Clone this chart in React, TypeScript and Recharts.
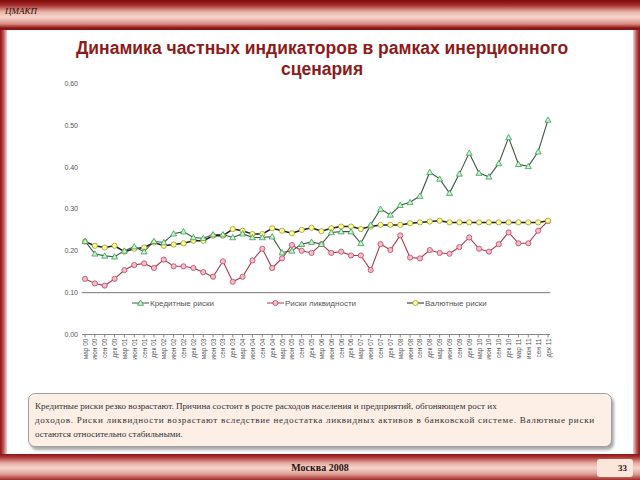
import React from "react";
import {
  LineChart,
  Line,
  XAxis,
  YAxis,
  ReferenceLine,
  Legend,
} from "recharts";

const periods = [
  "мар 00", "июн 00", "сен 00", "дек 00",
  "мар 01", "июн 01", "сен 01", "дек 01",
  "мар 02", "июн 02", "сен 02", "дек 02",
  "мар 03", "июн 03", "сен 03", "дек 03",
  "мар 04", "июн 04", "сен 04", "дек 04",
  "мар 05", "июн 05", "сен 05", "дек 05",
  "мар 06", "июн 06", "сен 06", "дек 06",
  "мар 07", "июн 07", "сен 07", "дек 07",
  "мар 08", "июн 08", "сен 08", "дек 08",
  "мар 09", "июн 09", "сен 09", "дек 09",
  "мар 10", "июн 10", "сен 10", "дек 10",
  "мар 11", "июн 11", "сен 11", "дек 11",
];

const creditRisk = [
  0.223, 0.193, 0.188, 0.186, 0.2, 0.21, 0.198, 0.223,
  0.22, 0.241, 0.246, 0.232, 0.23, 0.239, 0.239, 0.232,
  0.241, 0.232, 0.232, 0.234, 0.196, 0.2, 0.216, 0.221,
  0.216, 0.244, 0.246, 0.246, 0.218, 0.262, 0.3, 0.286,
  0.309, 0.316, 0.331, 0.388, 0.372, 0.338, 0.384, 0.434,
  0.386, 0.377, 0.409, 0.471, 0.407, 0.402, 0.437, 0.513,
];

const liquidityRisk = [
  0.133, 0.122, 0.117, 0.133, 0.154, 0.166, 0.17, 0.159,
  0.179, 0.163, 0.163, 0.159, 0.149, 0.138, 0.175, 0.126,
  0.138, 0.177, 0.205, 0.159, 0.182, 0.214, 0.2, 0.195,
  0.216, 0.195, 0.198, 0.189, 0.189, 0.154, 0.216, 0.202,
  0.237, 0.184, 0.182, 0.202, 0.195, 0.193, 0.209, 0.232,
  0.205, 0.198, 0.216, 0.244, 0.218, 0.218, 0.248, 0.271,
];

const currencyRisk = [
  0.222, 0.212, 0.208, 0.212, 0.198, 0.205, 0.208, 0.22,
  0.212, 0.215, 0.218, 0.224, 0.224, 0.236, 0.236, 0.252,
  0.248, 0.24, 0.24, 0.254, 0.248, 0.242, 0.25, 0.255,
  0.247, 0.254, 0.258, 0.258, 0.252, 0.258, 0.262, 0.262,
  0.262, 0.266, 0.268, 0.27, 0.272, 0.268, 0.268, 0.268,
  0.268, 0.268, 0.268, 0.268, 0.268, 0.268, 0.268, 0.272,
];

const yTicks = [0, 0.1, 0.2, 0.3, 0.4, 0.5, 0.6];

const chartData = periods.map((p, i) => ({
  period: p,
  credit: creditRisk[i],
  liquidity: liquidityRisk[i],
  currency: currencyRisk[i],
}));

const SERIES = {
  credit: { name: "Кредитные риски", line: "#3c5a40", fill: "#ccf2cc", stroke: "#3a9a5a" },
  liquidity: { name: "Риски ликвидности", line: "#a83848", fill: "#f3bccb", stroke: "#b84a62" },
  currency: { name: "Валютные риски", line: "#1e1e1e", fill: "#ffff99", stroke: "#9a9a30" },
};

const XTick = (props: any) => {
  const { x, y, payload } = props;
  return (
    <text
      x={x}
      y={y}
      transform={`rotate(-90 ${x} ${y})`}
      textAnchor="end"
      dominantBaseline="central"
      fontSize={6.5}
      fill="#555"
    >
      {payload.value}
    </text>
  );
};

const TriangleDot = (props: any) => {
  const { cx, cy, index } = props;
  if (cx == null || cy == null) return null;
  return (
    <path
      key={`t-${index}`}
      d={`M${cx},${cy - 3} L${cx + 3},${cy + 2.3} L${cx - 3},${cy + 2.3} Z`}
      fill={SERIES.credit.fill}
      stroke={SERIES.credit.stroke}
      strokeWidth={0.8}
    />
  );
};

const LegendMarker = ({ kind }: { kind: "credit" | "liquidity" | "currency" }) => {
  const s = SERIES[kind];
  return (
    <svg width={17} height={10} style={{ verticalAlign: "middle" }}>
      <line x1={0} y1={5} x2={17} y2={5} stroke={s.line} strokeWidth={1} />
      {kind === "credit" ? (
        <path d="M8.5,2 L11.5,7.3 L5.5,7.3 Z" fill={s.fill} stroke={s.stroke} strokeWidth={0.8} />
      ) : (
        <circle cx={8.5} cy={5} r={2.6} fill={s.fill} stroke={s.stroke} strokeWidth={0.8} />
      )}
    </svg>
  );
};

const ChartLegend = () => {
  const items: { kind: "credit" | "liquidity" | "currency"; left: number }[] = [
    { kind: "credit", left: 24 },
    { kind: "liquidity", left: 159 },
    { kind: "currency", left: 299 },
  ];
  return (
    <div style={{ position: "relative", width: 402, height: 12, background: "#fff" }}>
      {items.map((it) => (
        <div
          key={it.kind}
          style={{
            position: "absolute",
            left: it.left,
            top: 0,
            height: 12,
            display: "flex",
            alignItems: "center",
            fontSize: 8,
            color: "#555",
            whiteSpace: "nowrap",
          }}
        >
          <LegendMarker kind={it.kind} />
          <span style={{ marginLeft: 1 }}>{SERIES[it.kind].name}</span>
        </div>
      ))}
    </div>
  );
};

export default function App() {
  return (
    <div
      style={{
        position: "absolute",
        left: 0,
        top: 0,
        width: 640,
        height: 480,
        background: "#fff",
        overflow: "hidden",
        fontFamily: "'Liberation Sans', Arial, sans-serif",
      }}
    >
      {/* header band */}
      <div
        style={{
          position: "absolute",
          left: 0,
          top: 0,
          width: 640,
          height: 30,
          background:
            "linear-gradient(to bottom, #7e0a0a 0px, #a52a2a 5px, #e8b4a8 12px, #f6d6cc 17px, #d88a80 24px, #8c1414 28px, #8c1414 30px)",
        }}
      />
      <div
        style={{
          position: "absolute",
          left: 5,
          top: 6,
          fontFamily: "'Liberation Serif', serif",
          fontStyle: "italic",
          fontSize: 9,
          color: "#2a0a0a",
        }}
      >
        ЦМАКП
      </div>
      {/* side frame */}
      <div
        style={{
          position: "absolute",
          left: 0,
          top: 30,
          width: 7,
          height: 425,
          background: "linear-gradient(to right, #8c1414 0px, #b44a4a 3px, #f3d2cc 7px)",
        }}
      />
      <div
        style={{
          position: "absolute",
          right: 0,
          top: 30,
          width: 7,
          height: 425,
          background: "linear-gradient(to left, #8c1414 0px, #b44a4a 3px, #f3d2cc 7px)",
        }}
      />
      {/* footer band */}
      <div
        style={{
          position: "absolute",
          left: 0,
          top: 454,
          width: 640,
          height: 26,
          background:
            "linear-gradient(to bottom, #8c1414 0px, #a83232 3px, #e6aaa0 9px, #f6d6cc 14px, #e0a094 20px, #a02a2a 26px)",
        }}
      />
      <div
        style={{
          position: "absolute",
          left: 0,
          top: 462,
          width: 640,
          textAlign: "center",
          fontFamily: "'Liberation Serif', serif",
          fontSize: 10,
          fontWeight: "bold",
          color: "#2a1010",
        }}
      >
        Москва 2008
      </div>
      <div
        style={{
          position: "absolute",
          left: 597,
          top: 459,
          width: 36,
          height: 18,
          background: "#fbe6dc",
          borderRadius: 3,
          fontFamily: "'Liberation Serif', serif",
          fontSize: 9,
          fontWeight: "bold",
          color: "#2a1010",
          textAlign: "right",
          lineHeight: "18px",
          boxSizing: "border-box",
          paddingRight: 6,
        }}
      >
        33
      </div>

      {/* title */}
      <div
        style={{
          position: "absolute",
          left: 0,
          top: 38,
          width: 644,
          textAlign: "center",
          fontSize: 17.5,
          fontWeight: "bold",
          lineHeight: "21px",
          color: "#8e1a1a",
        }}
      >
        Динамика частных индикаторов в рамках инерционного
        <br />
        сценария
      </div>

      {/* chart */}
      <div style={{ position: "absolute", left: 30, top: 75 }}>
        <LineChart
          width={540}
          height={310}
          data={chartData}
          margin={{ top: 8.5, right: 20, left: 0, bottom: 8 }}
        >
          <XAxis
            dataKey="period"
            interval={0}
            tick={<XTick />}
            tickSize={3}
            tickMargin={1}
            stroke="#888"
            height={30.5}
            padding={{ left: 3, right: 2 }}
          />
          <YAxis
            domain={[0, 0.6]}
            ticks={yTicks}
            tickFormatter={(v: number) => v.toFixed(2)}
            axisLine={false}
            tickLine={false}
            tickSize={0}
            tickMargin={4}
            width={52}
            fontSize={7}
            tick={{ fill: "#555" }}
          />
          <YAxis
            yAxisId="frame"
            orientation="right"
            domain={[0, 0.6]}
            tick={false}
            tickLine={false}
            width={0}
            stroke="#999"
          />
          <ReferenceLine y={0.1} stroke="#555" strokeWidth={0.8} />
          <Legend
            content={<ChartLegend />}
            wrapperStyle={{ position: "absolute", left: 78, top: 222, width: 402, height: 12 }}
          />
          <Line
            dataKey="liquidity"
            name={SERIES.liquidity.name}
            stroke={SERIES.liquidity.line}
            strokeWidth={1.1}
            dot={{ r: 2.6, fill: SERIES.liquidity.fill, stroke: SERIES.liquidity.stroke, strokeWidth: 0.8 }}
            isAnimationActive={false}
          />
          <Line
            dataKey="currency"
            name={SERIES.currency.name}
            stroke={SERIES.currency.line}
            strokeWidth={1.5}
            dot={{ r: 2.6, fill: SERIES.currency.fill, stroke: SERIES.currency.stroke, strokeWidth: 0.8 }}
            isAnimationActive={false}
          />
          <Line
            dataKey="credit"
            name={SERIES.credit.name}
            stroke={SERIES.credit.line}
            strokeWidth={1.1}
            dot={<TriangleDot />}
            isAnimationActive={false}
          />
        </LineChart>
      </div>

      {/* commentary box */}
      <div
        style={{
          position: "absolute",
          left: 28,
          top: 393,
          width: 584,
          height: 54,
          boxSizing: "border-box",
          background: "#fdeee6",
          border: "1px solid #a0a0a0",
          borderRadius: 7,
          boxShadow: "2px 3px 3px rgba(0,0,0,0.35)",
          padding: "5px 6px",
          fontFamily: "'Liberation Serif', serif",
          fontSize: 9.1,
          lineHeight: "14px",
          color: "#333",
          whiteSpace: "nowrap",
        }}
      >
        Кредитные риски резко возрастают. Причина состоит в росте расходов населения и предприятий, обгоняющем рост их
        <br />
        <span style={{ letterSpacing: 0.7 }}>
          доходов. Риски ликвидности возрастают вследствие недостатка ликвидных активов в банковской системе. Валютные риски
        </span>
        <br />
        остаются относительно стабильными.
      </div>
    </div>
  );
}
